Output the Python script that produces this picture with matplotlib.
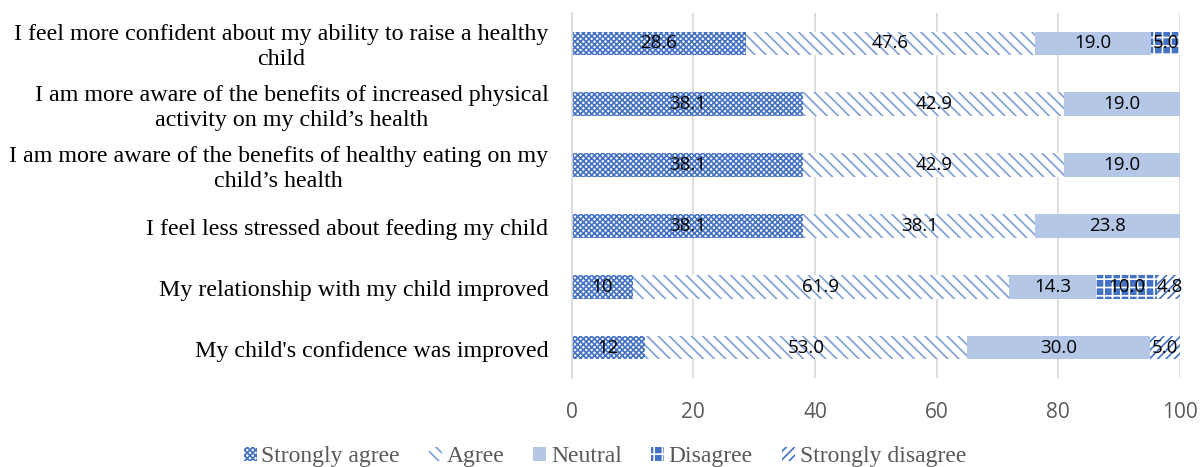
import matplotlib
matplotlib.use("Agg")
import matplotlib.pyplot as plt
import matplotlib.transforms as mtransforms
import numpy as np

categories = [
    "I feel more confident about my ability to raise a healthy\nchild",
    "I am more aware of the benefits of increased physical\nactivity on my child\u2019s health",
    "I am more aware of the benefits of healthy eating on my\nchild\u2019s health",
    "I feel less stressed about feeding my child",
    "My relationship with my child improved",
    "My child's confidence was improved",
]
series_names = ["Strongly agree", "Agree", "Neutral", "Disagree", "Strongly disagree"]
strongly_agree = [28.6, 38.1, 38.1, 38.1, 10, 12]
agree = [47.6, 42.9, 42.9, 38.1, 61.9, 53.0]
neutral = [19.0, 19.0, 19.0, 23.8, 14.3, 30.0]
disagree = [5.0, 0, 0, 0, 10.0, 0]
strongly_disagree = [0, 0, 0, 0, 4.8, 5.0]
label_text = [
    ["28.6", "47.6", "19.0", "5.0", ""],
    ["38.1", "42.9", "19.0", "", ""],
    ["38.1", "42.9", "19.0", "", ""],
    ["38.1", "38.1", "23.8", "", ""],
    ["10", "61.9", "14.3", "10.0", "4.8"],
    ["12", "53.0", "30.0", "", "5.0"],
]
xticks = [0, 20, 40, 60, 80, 100]

blue = "#4472C4"
styles = [
    dict(facecolor="white", edgecolor=blue, hatch="xxxxxx"),
    dict(facecolor="white", edgecolor="#7F9FD8", hatch="\\\\\\"),
    dict(facecolor="#B4C7E7", edgecolor="#B4C7E7", hatch=None),
    dict(facecolor=blue, edgecolor="white", hatch="++"),
    dict(facecolor="white", edgecolor=blue, hatch="////"),
]

plt.rcParams["hatch.linewidth"] = 1.2
fig = plt.figure(figsize=(12, 4.67), dpi=100)
ax = fig.add_axes([0.4764, 0.1906, 0.5069, 0.7814])

data = [strongly_agree, agree, neutral, disagree, strongly_disagree]
n = len(categories)
y = np.arange(n)
left = np.zeros(n)
for s, vals in enumerate(data):
    vals = np.array(vals, dtype=float)
    ax.barh(y, vals, left=left, height=0.39, linewidth=0,
            label=series_names[s], zorder=2, **styles[s])
    for i in range(n):
        t = label_text[i][s]
        if t and vals[i] > 0:
            cx = left[i] + vals[i] / 2
            cx = min(cx, 98.3)
            ax.text(cx, y[i], t, ha="center", va="center", fontsize=13.5,
                    family="Open Sans", color="black", zorder=3)
    left = left + vals

ax.set_xlim(0, 100)
ax.set_ylim(n - 0.5, -0.5)
ax.set_yticks(y)
ax.set_yticklabels([])
ax.tick_params(axis="y", length=0)
trans = mtransforms.blended_transform_factory(fig.transFigure, ax.transData)
trans = trans + mtransforms.ScaledTranslation(0, -4 / 100, fig.dpi_scale_trans)
for i, c in enumerate(categories):
    fig.text(0.4570, y[i], c, transform=trans, ha="right", va="center",
             family="Liberation Serif", fontsize=17.3, multialignment="center",
             linespacing=1.25)
ax.set_xticks(xticks)
ax.set_xticklabels([str(v) for v in xticks], family="Open Sans", fontsize=15, color="#595959")
ax.tick_params(axis="x", length=0, pad=17)
ax.grid(axis="x", color="#D9D9D9", linewidth=1.2, zorder=0)
for sp in ["top", "right", "bottom"]:
    ax.spines[sp].set_visible(False)
ax.spines["left"].set_color("#D9D9D9")
ax.spines["left"].set_linewidth(1.2)

leg = fig.legend(loc="center", bbox_to_anchor=(0.504, 0.022), ncol=5, frameon=False,
                 prop={"family": "Liberation Serif", "size": 17}, handlelength=0.55,
                 handleheight=0.55, handletextpad=0.2, columnspacing=1.23,
                 borderpad=0, borderaxespad=0)
for t in leg.get_texts():
    t.set_color("#595959")

fig.savefig("out.png", dpi=100)
